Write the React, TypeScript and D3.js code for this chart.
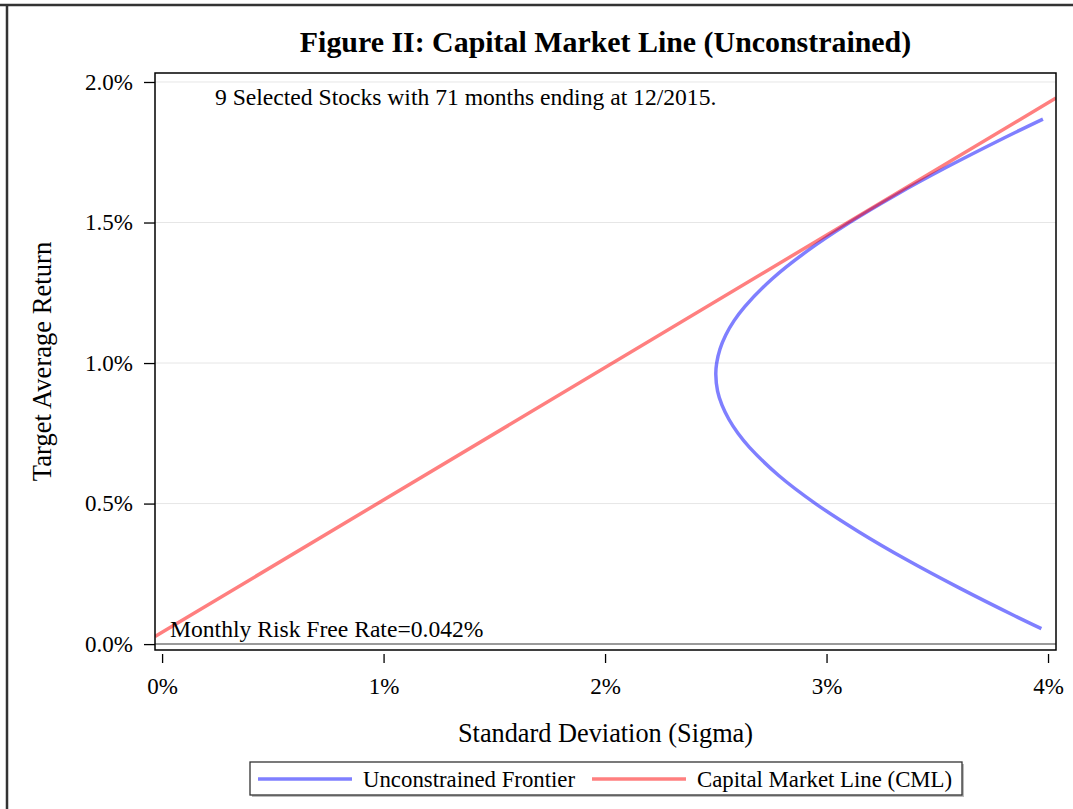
import React, { useEffect, useRef } from "react";
import * as d3 from "d3";

// frontier points (sigma %, return %)
const frontierSigma = [3.97, 3.851, 3.599, 3.362, 3.145, 2.95, 2.784, 2.652, 2.6, 2.559, 2.528, 2.508, 2.5, 2.504, 2.519, 2.545, 2.582, 2.63, 2.755, 2.915, 3.104, 3.317, 3.55, 3.799, 3.977];
const frontierReturn = [0.055, 0.1, 0.2, 0.3, 0.4, 0.5, 0.6, 0.7, 0.75, 0.8, 0.85, 0.9, 0.96, 1.0, 1.05, 1.1, 1.15, 1.2, 1.3, 1.4, 1.5, 1.6, 1.7, 1.8, 1.868];

// capital market line (starts at risk free rate 0.042%)
const cmlSigma = [-0.032, 0, 4.036];
const cmlReturn = [0.027, 0.042, 1.943];

const sigmaTicks = [0, 1, 2, 3, 4];
const returnTicks = [0, 0.5, 1.0, 1.5, 2.0];

const legendNames = ["Unconstrained Frontier", "Capital Market Line (CML)"];

const W = 1073;
const H = 809;
const FONT = "'Liberation Serif', 'Times New Roman', serif";

const App = () => {
  const ref = useRef<SVGSVGElement>(null);

  useEffect(() => {
    const svg = d3.select(ref.current);
    svg.selectAll("*").remove();

    const left = 155, right = 1056, top = 73, bottom = 650;

    const x = d3.scaleLinear().domain([-0.032, 4.036]).range([left, right]);
    const y = d3.scaleLinear().domain([-0.021, 2.032]).range([bottom, top]);

    // outer figure border (top + left)
    svg.append("line").attr("x1", 0).attr("x2", W).attr("y1", 5).attr("y2", 5)
      .attr("stroke", "#333").attr("stroke-width", 2.5);
    svg.append("line").attr("x1", 7).attr("x2", 7).attr("y1", 5).attr("y2", H)
      .attr("stroke", "#333").attr("stroke-width", 2.5);

    // title
    svg.append("text")
      .attr("x", (left + right) / 2)
      .attr("y", 52)
      .attr("text-anchor", "middle")
      .style("font-family", FONT)
      .style("font-weight", "bold")
      .style("font-size", "29.9px")
      .text("Figure II: Capital Market Line (Unconstrained)");

    svg.append("defs").append("clipPath").attr("id", "plotClip")
      .append("rect").attr("x", left).attr("y", top)
      .attr("width", right - left).attr("height", bottom - top);

    // gridlines
    returnTicks.filter((t) => t > 0).forEach((t) => {
      svg.append("line")
        .attr("x1", left).attr("x2", right)
        .attr("y1", y(t)).attr("y2", y(t))
        .attr("stroke", "#e6e6e6").attr("stroke-width", 1);
    });
    // zero reference line
    svg.append("line")
      .attr("x1", left).attr("x2", right)
      .attr("y1", y(0)).attr("y2", y(0))
      .attr("stroke", "#9a9a9a").attr("stroke-width", 2);

    const plot = svg.append("g").attr("clip-path", "url(#plotClip)");

    const frontier = frontierSigma.map((s, i) => [s, frontierReturn[i]] as [number, number]);
    const cml = cmlSigma.map((s, i) => [s, cmlReturn[i]] as [number, number]);

    const line = d3.line<[number, number]>()
      .x((d) => x(d[0]))
      .y((d) => y(d[1]))
      .curve(d3.curveCatmullRom);

    plot.append("path")
      .attr("d", line(frontier))
      .attr("fill", "none")
      .attr("stroke", "rgb(0,0,255)")
      .attr("stroke-opacity", 0.5)
      .attr("stroke-width", 3.5);

    plot.append("path")
      .attr("d", d3.line<[number, number]>().x((d) => x(d[0])).y((d) => y(d[1]))(cml))
      .attr("fill", "none")
      .attr("stroke", "rgb(255,0,0)")
      .attr("stroke-opacity", 0.5)
      .attr("stroke-width", 3.5);

    // inset texts
    svg.append("text")
      .attr("x", 215).attr("y", 105)
      .style("font-family", FONT).style("font-size", "23.6px")
      .text("9 Selected Stocks with 71 months ending at 12/2015.");
    svg.append("text")
      .attr("x", 170).attr("y", 637)
      .style("font-family", FONT).style("font-size", "23.6px")
      .text("Monthly Risk Free Rate=0.042%");

    // frame
    svg.append("rect")
      .attr("x", left).attr("y", top)
      .attr("width", right - left).attr("height", bottom - top)
      .attr("fill", "none").attr("stroke", "#000").attr("stroke-width", 1.5);

    // y axis
    const yAxis = svg.append("g")
      .attr("transform", `translate(${left},0)`)
      .call(d3.axisLeft(y).tickValues(returnTicks).tickSize(11).tickPadding(11)
        .tickFormat((d) => d3.format(".1f")(d as number) + "%"));
    yAxis.select(".domain").remove();
    yAxis.selectAll("line").attr("stroke", "#000").attr("stroke-width", 1.3);
    yAxis.selectAll("text").style("font-family", FONT).style("font-size", "23px").attr("fill", "#000");

    // x axis
    const xAxis = svg.append("g")
      .attr("transform", `translate(0,${bottom + 4})`)
      .call(d3.axisBottom(x).tickValues(sigmaTicks).tickSize(9).tickPadding(15)
        .tickFormat((d) => d + "%"));
    xAxis.select(".domain").remove();
    xAxis.selectAll("line").attr("stroke", "#000").attr("stroke-width", 1.3);
    xAxis.selectAll("text").style("font-family", FONT).style("font-size", "23px").attr("fill", "#000");

    // axis labels
    svg.append("text")
      .attr("x", (left + right) / 2).attr("y", 742)
      .attr("text-anchor", "middle")
      .style("font-family", FONT).style("font-size", "26.3px")
      .text("Standard Deviation (Sigma)");
    svg.append("text")
      .attr("transform", `translate(51,${(top + bottom) / 2}) rotate(-90)`)
      .attr("text-anchor", "middle")
      .style("font-family", FONT).style("font-size", "26.6px")
      .text("Target Average Return");

    // legend
    const lg = svg.append("g");
    lg.append("rect")
      .attr("x", 252).attr("y", 764).attr("width", 712).attr("height", 33)
      .attr("fill", "#bbb");
    lg.append("rect")
      .attr("x", 250).attr("y", 762).attr("width", 712).attr("height", 33)
      .attr("fill", "#fff").attr("stroke", "#333").attr("stroke-width", 1.3);
    const legendColors = ["rgb(0,0,255)", "rgb(255,0,0)"];
    const legendX = [258, 592];
    legendNames.forEach((name, i) => {
      lg.append("line")
        .attr("x1", legendX[i]).attr("x2", legendX[i] + 94)
        .attr("y1", 779).attr("y2", 779)
        .attr("stroke", legendColors[i]).attr("stroke-opacity", 0.5)
        .attr("stroke-width", 3.5);
      lg.append("text")
        .attr("x", legendX[i] + 105).attr("y", 787)
        .style("font-family", FONT).style("font-size", "22.8px")
        .text(name);
    });
  }, []);

  return (
    <div style={{ position: "absolute", left: 0, top: 0 }}>
      <svg ref={ref} width={W} height={H} style={{ display: "block", background: "#fff" }}></svg>
    </div>
  );
};

export default App;
